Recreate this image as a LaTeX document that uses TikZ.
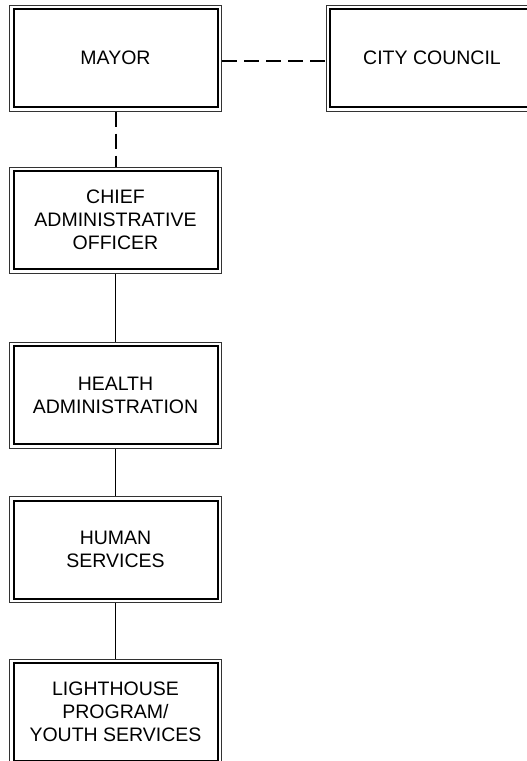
\documentclass[tikz,border=0pt]{standalone}
\usepackage{fontspec}
\setmainfont{Liberation Sans}
\usetikzlibrary{positioning}

\begin{document}
\begin{tikzpicture}[
      x=1pt, y=-1pt,
      font=\fontsize{19.5}{23}\selectfont,
      orgbox/.style={draw=black!80, line width=1pt, align=center,
        minimum width=212pt, minimum height=106pt, inner sep=0pt,
        path picture={\draw[black, line width=2pt]
          ([shift={(4pt,4pt)}]path picture bounding box.south west) rectangle
          ([shift={(-4pt,-4pt)}]path picture bounding box.north east);}},
      dashlink/.style={line width=2pt, dash pattern=on 15pt off 7pt},
      link/.style={line width=1.2pt},
    ]
      \useasboundingbox (0,0) rectangle (527,761);

      \node[orgbox] (mayor)   at (115.5,58)  {MAYOR};
      \node[orgbox] (council) at (432,58)    {CITY COUNCIL};
      \node[orgbox] (cao)     at (115.5,220) {CHIEF\\ ADMINISTRATIVE\\ OFFICER};
      \node[orgbox] (health)  at (115.5,395) {HEALTH\\ ADMINISTRATION};
      \node[orgbox] (human)   at (115.5,549.5) {HUMAN\\ SERVICES};
      \node[orgbox] (light)   at (115.5,712) {LIGHTHOUSE\\ PROGRAM/\\ YOUTH SERVICES};

      \draw[dashlink] ([yshift=-3pt]mayor.east) -- ([yshift=-3pt]council.west);
      \draw[dashlink] (mayor.south) -- (cao.north);
      \draw[link] (cao) -- (health);
      \draw[link] (health) -- (human);
      \draw[link] (human) -- (light);
    \end{tikzpicture}
\end{document}
